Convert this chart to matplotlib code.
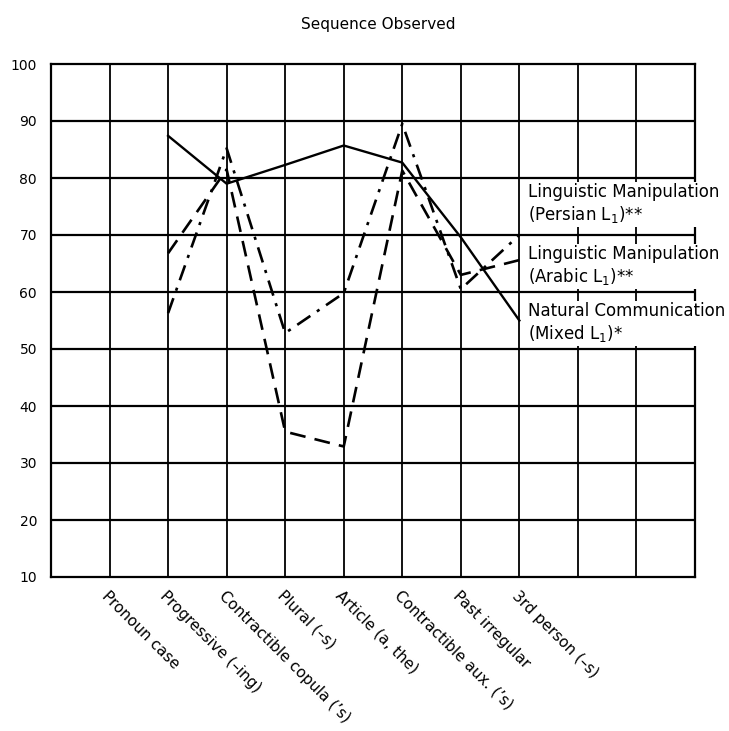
import numpy as np
import matplotlib
matplotlib.use("Agg")
import matplotlib.pyplot as plt

plt.rcParams['font.family'] = ['DejaVu Sans']

categories = ["Pronoun case", "Progressive (\u2013ing)", "Contractible copula (\u2019s)",
              "Plural (\u2013s)", "Article (a, the)", "Contractible aux. (\u2019s)",
              "Past irregular", "3rd person (\u2013s)"]
natural = [np.nan, 87.4, 79.0, 82.3, 85.7, 82.7, 69.6, 55.0]
persian = [np.nan, 56.3, 85.2, 52.8, 59.8, 89.5, 60.5, 70.0]
arabic = [np.nan, 66.8, 81.5, 35.5, 32.9, 81.3, 63.0, 65.6]
yticks = [10, 20, 30, 40, 50, 60, 70, 80, 90, 100]
series_labels = ["Linguistic Manipulation\n(Persian L$_1$)**",
                 "Linguistic Manipulation\n(Arabic L$_1$)**",
                 "Natural Communication\n(Mixed L$_1$)*"]
label_y = [75.4, 64.6, 54.6]
title = "Sequence Observed"

fig = plt.figure(figsize=(7.29, 7.31), dpi=100)
ax = fig.add_axes([51/729, 1 - 577/731, (695 - 51)/729, (577 - 64)/731])

n_grid = 11
x = np.arange(1, len(categories) + 1)
ax.set_xlim(0, n_grid)
ax.set_ylim(10, 100)

# grid
for gx in range(1, n_grid):
    ax.axvline(gx, color='black', lw=1.3, zorder=1)
for gy in yticks[1:-1]:
    ax.axhline(gy, color='black', lw=1.6, zorder=4)
for s in ax.spines.values():
    s.set_linewidth(1.6)
    s.set_zorder(2)

ax.plot(x, natural, color='black', lw=1.7, zorder=5)
ax.plot(x, persian, color='black', lw=1.9, dashes=(6, 3, 1.2, 3), zorder=5)
ax.plot(x, arabic, color='black', lw=1.9, dashes=(6, 3.5), zorder=5)

for lab, ly in zip(series_labels, label_y):
    ax.text(8.15, ly, lab, ha='left', va='center', fontsize=12, linespacing=1.2,
            zorder=3, clip_on=False,
            bbox=dict(facecolor='white', edgecolor='none', pad=1.5))

ax.set_yticks(yticks)
ax.set_yticklabels([str(v) for v in yticks], fontsize=10)
ax.tick_params(axis='y', length=0, pad=10)
ax.set_xticks(x)
ax.set_xticklabels(categories, rotation=-45, ha='left', va='top',
                   rotation_mode='anchor', fontsize=11)
ax.tick_params(axis='x', length=0, pad=8)

fig.text(378/729, 1 - 25/731, title, ha='center', va='center', fontsize=11)

fig.savefig("out.png", dpi=100)
